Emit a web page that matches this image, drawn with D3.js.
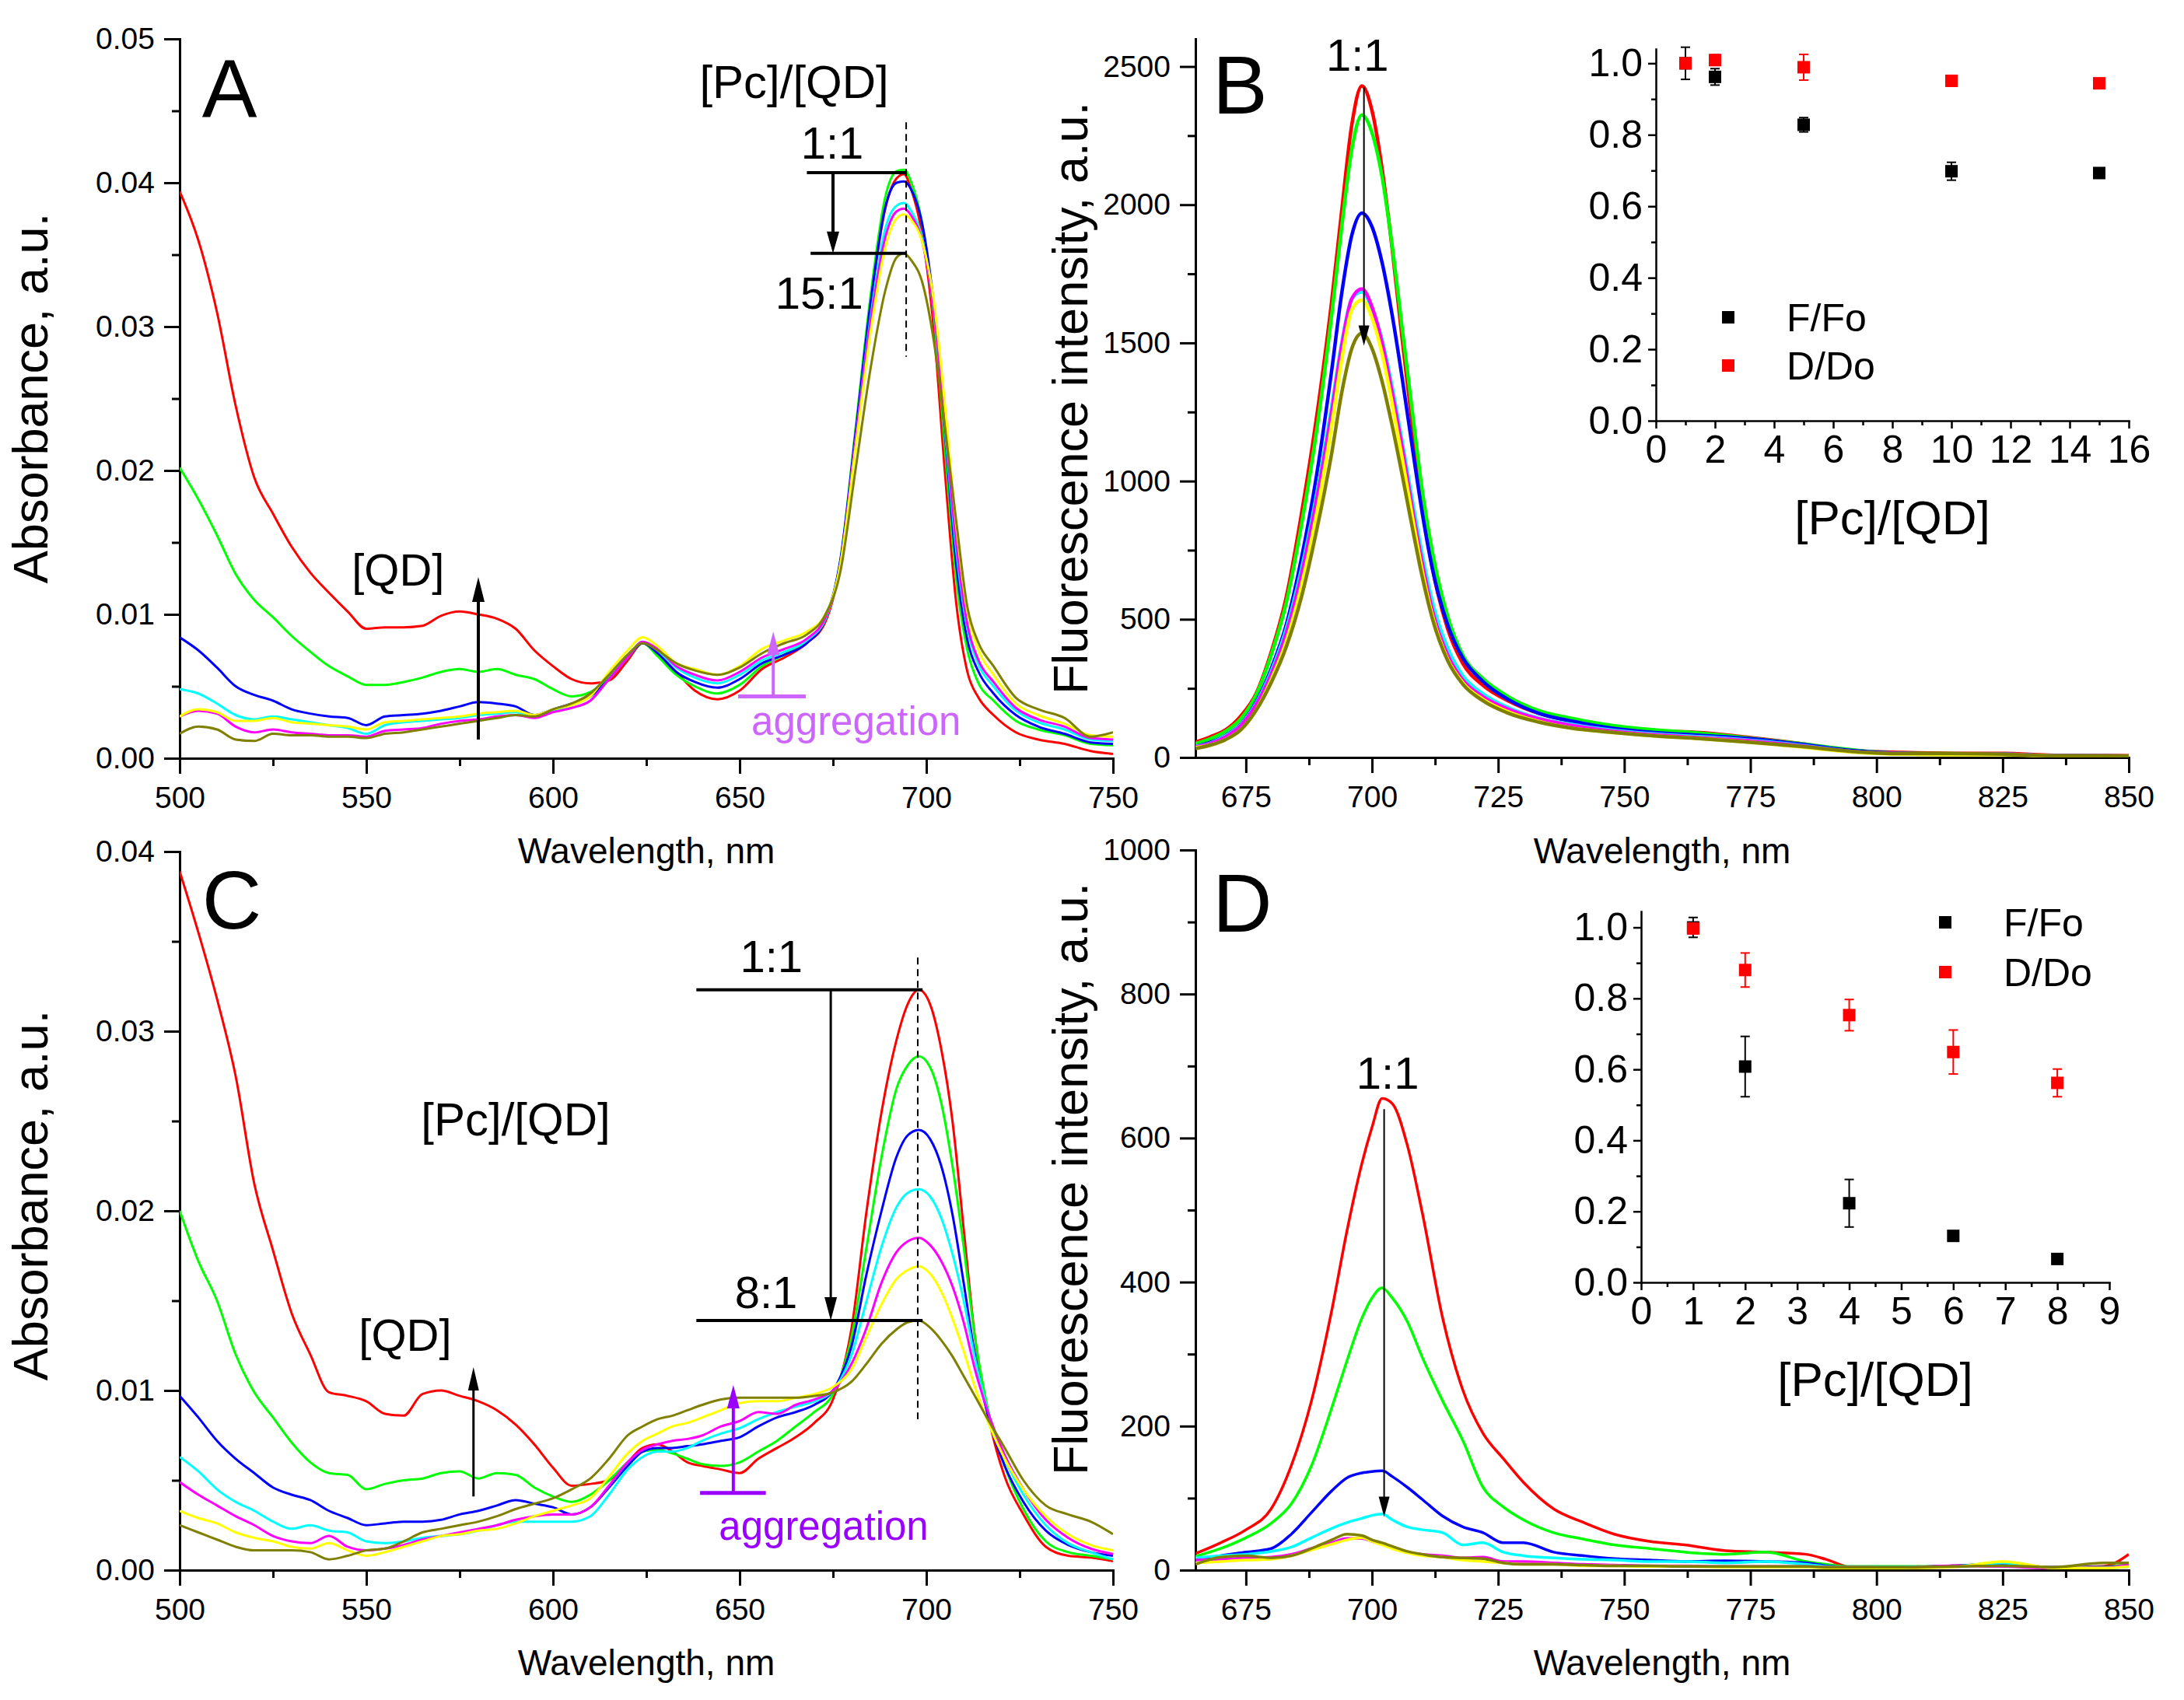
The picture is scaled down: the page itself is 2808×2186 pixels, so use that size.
<!DOCTYPE html>
<html><head><meta charset="utf-8">
<script src="https://cdn.jsdelivr.net/npm/d3@7"></script>
<style>
html,body{margin:0;padding:0;background:#fff;}
svg{display:block;}
</style></head><body>
<svg id="chart" width="2808" height="2186"></svg>
<script>
// ---------------- DATA ----------------
const seriesColors = ["#ff0000", "#00ff00", "#0000ff", "#00ffff", "#ff00ff", "#ffff00", "#808000"];

// Panel A: absorbance, [Pc]/[QD] series
const gA = [500,505,510,515,520,525,530,535,540,545,550,555,560,565,570,575,580,585,590,595,600,605,610,615,620,
  624,628,633,638,644,650,656,662,668,673,677,681,685,689,692,694,696,699,702,705,708,711,714,718,724,730,737,744,750];
const aRed = [.0394,.0360,.0310,.0245,.0195,.0170,.0147,.0129,.0115,.0102,.0090,.0091,.0091,.0092,.0099,.0102,.0100,.0097,.0090,.0075,.0064,.0055,.0052,.0054,.0068,
  .0080,.0073,.0060,.0047,.0041,.0047,.0062,.0070,.0080,.0095,.0136,.0223,.0315,.0382,.0403,.0406,.0395,.0362,.0298,.0198,.0108,.0060,.0042,.0030,.0018,.0013,.0010,.0005,.0003];
const aGreen = [.0202,.0180,.0155,.0128,.0110,.0098,.0085,.0074,.0064,.0057,.0051,.0051,.0053,.0056,.0060,.0062,.0060,.0062,.0058,.0055,.0048,.0043,.0046,.0056,.0070,
  .0080,.0071,.0058,.0050,.0045,.0051,.0064,.0072,.0082,.0097,.0138,.0228,.0320,.0390,.0408,.0409,.0400,.0370,.0310,.0215,.0125,.0075,.0052,.0040,.0026,.0020,.0016,.0010,.0009];
const aBlue = [.0084,.0075,.0063,.0050,.0044,.0040,.0034,.0031,.0029,.0028,.0023,.0029,.0030,.0031,.0033,.0036,.0039,.0038,.0036,.0030,.0034,.0038,.0043,.0055,.0070,
  .0080,.0073,.0060,.0053,.0049,.0055,.0066,.0072,.0080,.0097,.0138,.0225,.0315,.0383,.0400,.0401,.0395,.0370,.0315,.0225,.0135,.0082,.0060,.0045,.0030,.0022,.0017,.0011,.0010];
const aCyan = [.0048,.0045,.0038,.0030,.0027,.0029,.0027,.0025,.0023,.0021,.0017,.0023,.0025,.0026,.0027,.0028,.0030,.0031,.0032,.0029,.0033,.0035,.0040,.0055,.0070,
  .0081,.0075,.0063,.0056,.0052,.0058,.0068,.0074,.0082,.0097,.0135,.0220,.0305,.0368,.0384,.0386,.0380,.0360,.0310,.0228,.0145,.0090,.0065,.0050,.0033,.0025,.0020,.0013,.0012];
const aMagenta = [.0029,.0033,.0031,.0022,.0018,.0020,.0018,.0017,.0016,.0016,.0015,.0019,.0020,.0021,.0024,.0026,.0027,.0029,.0030,.0028,.0032,.0035,.0040,.0055,.0070,
  .0081,.0076,.0064,.0058,.0054,.0060,.0070,.0076,.0083,.0098,.0135,.0220,.0302,.0362,.0380,.0382,.0377,.0358,.0312,.0232,.0150,.0093,.0068,.0053,.0035,.0027,.0022,.0014,.0013];
const aYellow = [.0029,.0034,.0032,.0026,.0026,.0028,.0025,.0024,.0023,.0022,.0020,.0025,.0026,.0027,.0028,.0029,.0031,.0032,.0033,.0030,.0034,.0037,.0043,.0060,.0075,
  .0084,.0078,.0066,.0062,.0058,.0064,.0076,.0082,.0088,.0100,.0135,.0215,.0295,.0355,.0375,.0378,.0374,.0358,.0318,.0245,.0162,.0102,.0075,.0058,.0038,.0030,.0024,.0016,.0015];
const aOlive = [.0017,.0022,.0020,.0013,.0012,.0017,.0016,.0016,.0015,.0015,.0014,.0017,.0018,.0020,.0022,.0024,.0026,.0028,.0030,.0029,.0034,.0038,.0045,.0058,.0072,
  .0080,.0075,.0066,.0061,.0058,.0063,.0073,.0080,.0086,.0100,.0130,.0200,.0270,.0325,.0348,.0351,.0346,.0330,.0290,.0230,.0165,.0105,.0080,.0064,.0042,.0034,.0028,.0015,.0018];

// Panel C: absorbance
const gC = [500,505,510,515,520,525,530,535,540,545,550,555,560,565,570,575,580,585,590,595,600,605,610,615,620,
  624,628,632,636,640,645,650,655,660,665,670,675,680,684,688,692,695,698,701,704,707,710,713,717,721,726,732,738,744,750];
const cRed = [.0389,.0355,.0318,.0275,.0215,.0178,.0143,.0120,.0099,.0097,.0094,.0087,.0086,.0098,.0100,.0097,.0094,.0089,.0081,.0070,.0057,.0047,.0048,.0050,.0060,
  .0068,.0070,.0066,.0060,.0058,.0056,.0054,.0062,.0068,.0074,.0082,.0095,.0135,.0200,.0255,.0295,.0315,.0323,.0315,.0290,.0250,.0190,.0130,.0082,.0052,.0031,.0013,.0008,.0007,.0005];
const cGreen = [.0200,.0172,.0150,.0120,.0099,.0085,.0071,.0060,.0054,.0053,.0045,.0048,.0050,.0051,.0054,.0055,.0051,.0054,.0053,.0046,.0041,.0038,.0042,.0050,.0060,
  .0066,.0067,.0065,.0062,.0059,.0058,.0060,.0066,.0072,.0080,.0088,.0098,.0130,.0180,.0230,.0268,.0281,.0286,.0280,.0260,.0225,.0180,.0130,.0085,.0058,.0034,.0016,.0010,.0008,.0006];
const cBlue = [.0097,.0085,.0072,.0062,.0054,.0046,.0042,.0039,.0033,.0029,.0025,.0026,.0027,.0027,.0028,.0031,.0033,.0036,.0039,.0037,.0035,.0031,.0035,.0046,.0058,
  .0066,.0068,.0068,.0069,.0070,.0072,.0074,.0080,.0085,.0088,.0092,.0100,.0125,.0165,.0200,.0230,.0242,.0245,.0240,.0225,.0198,.0160,.0120,.0082,.0058,.0038,.0022,.0014,.0010,.0008];
const cCyan = [.0063,.0055,.0045,.0038,.0033,.0027,.0023,.0025,.0022,.0021,.0016,.0015,.0016,.0018,.0019,.0020,.0022,.0025,.0027,.0027,.0027,.0027,.0030,.0042,.0056,
  .0063,.0066,.0066,.0068,.0072,.0076,.0079,.0084,.0088,.0091,.0094,.0100,.0120,.0150,.0180,.0202,.0210,.0212,.0208,.0196,.0176,.0150,.0118,.0085,.0062,.0042,.0025,.0015,.0010,.0006];
const cMagenta = [.0049,.0042,.0036,.0030,.0025,.0019,.0016,.0015,.0019,.0013,.0011,.0012,.0014,.0017,.0019,.0021,.0023,.0025,.0028,.0030,.0031,.0031,.0035,.0047,.0060,
  .0067,.0070,.0072,.0073,.0075,.0080,.0083,.0088,.0087,.0092,.0095,.0100,.0115,.0135,.0160,.0177,.0183,.0185,.0181,.0172,.0158,.0138,.0112,.0085,.0064,.0045,.0028,.0018,.0012,.0009];
const cYellow = [.0033,.0029,.0026,.0021,.0018,.0016,.0013,.0012,.0015,.0011,.0008,.0010,.0013,.0016,.0019,.0020,.0022,.0023,.0026,.0030,.0033,.0036,.0040,.0052,.0065,
  .0072,.0076,.0080,.0082,.0085,.0089,.0093,.0094,.0094,.0096,.0098,.0102,.0112,.0130,.0148,.0162,.0167,.0169,.0165,.0155,.0140,.0122,.0102,.0080,.0062,.0045,.0030,.0020,.0014,.0011];
const cOlive = [.0025,.0021,.0017,.0013,.0011,.0011,.0011,.0010,.0006,.0008,.0011,.0012,.0016,.0021,.0023,.0025,.0027,.0030,.0034,.0037,.0040,.0045,.0051,.0062,.0075,
  .0080,.0084,.0086,.0089,.0092,.0095,.0096,.0096,.0096,.0096,.0097,.0099,.0105,.0115,.0126,.0134,.0138,.0139,.0135,.0128,.0119,.0108,.0097,.0082,.0068,.0050,.0036,.0031,.0027,.0020];

// Panel B: fluorescence
const gB = [665,668,671,674,677,680,683,686,689,692,694,696,698,700,702,704,706,708,710,712,715,718,722,727,733,740,748,756,765,775,785,795,805,815,825,835,850];
const bRed = [55,75,100,150,230,380,580,880,1230,1650,1980,2290,2430,2340,2130,1840,1510,1200,900,682,465,340,261,205,160,130,110,97,90,72,50,25,18,15,15,8,6];
const bGreen = [50,68,95,140,225,370,560,840,1180,1600,1920,2200,2325,2260,2100,1850,1550,1250,960,740,510,370,285,220,170,140,115,100,88,70,50,28,15,14,12,6,5];
const bBlue = [40,55,80,120,200,320,480,720,1020,1400,1680,1890,1970,1920,1790,1600,1370,1120,880,680,480,360,275,210,160,130,105,90,80,68,48,25,15,13,12,6,5];
const bCyan = [40,52,78,118,195,310,465,680,950,1270,1500,1660,1685,1625,1510,1340,1140,930,730,560,395,295,230,180,142,118,98,85,75,62,44,22,14,12,12,6,5];
const bMagenta = [38,50,75,115,190,300,450,660,930,1250,1490,1660,1695,1630,1500,1320,1120,900,700,530,370,280,220,175,140,115,95,82,72,60,42,22,14,12,12,6,5];
const bYellow = [35,45,65,100,170,280,420,620,880,1200,1440,1620,1655,1590,1460,1280,1080,870,670,510,355,270,210,165,130,105,90,78,68,55,38,20,12,10,10,5,4];
const bOlive = [32,45,65,100,170,270,400,580,820,1100,1320,1480,1535,1480,1360,1200,1020,830,650,500,350,265,205,160,128,105,90,78,68,55,40,22,14,14,12,6,5];

// Panel D: fluorescence
const gD = [665,670,675,680,684,688,692,695,698,700,702,704,707,710,714,718,722,726,730,736,742,748,755,762,770,778,786,790,795,805,815,825,835,845,850];
const dRed = [23,38,56,85,145,235,360,470,565,615,655,648,590,495,350,250,190,155,122,85,66,50,40,35,27,25,22,15,4,3,6,8,3,5,22];
const dGreen = [19,30,45,65,92,145,225,290,350,378,392,378,345,295,235,180,115,88,70,52,43,35,30,25,22,25,12,8,5,5,5,10,3,4,8];
const dBlue = [14,20,25,30,50,80,110,128,135,137,138,130,115,98,75,60,52,38,38,25,20,16,14,12,13,12,10,6,4,4,6,8,4,4,6];
const dCyan = [17,20,22,26,32,45,58,66,72,76,78,70,60,56,52,35,38,25,20,17,15,14,12,12,10,12,8,5,4,4,5,10,3,3,5];
const dMagenta = [14,15,17,18,22,30,38,44,44,40,36,32,25,22,20,17,18,12,12,10,8,7,6,6,5,5,5,4,4,3,6,5,3,3,8];
const dYellow = [10,12,14,15,20,28,36,42,45,40,35,30,24,20,18,14,12,10,8,8,6,6,5,5,4,4,4,3,3,3,4,12,3,3,5];
const dOlive = [8,18,20,17,20,30,42,50,48,42,38,33,26,22,18,17,16,10,8,8,7,6,6,5,5,5,5,4,4,4,5,6,4,10,10];

// Insets
const insetBRatio = [1, 2, 5, 10, 15];
const insetBF = [1.0, 0.962, 0.828, 0.698, 0.693];
const insetBFerr = [0.045, 0.023, 0.02, 0.025, 0.01];
const insetBD = [1.0, 1.009, 0.989, 0.951, 0.944];
const insetBDerr = [0.01, 0.015, 0.036, 0.015, 0.008];
const insetDRatio = [1, 2, 4, 6, 8];
const insetDF = [1.0, 0.608, 0.223, 0.131, 0.066];
const insetDFerr = [0.028, 0.085, 0.067, 0.008, 0.006];
const insetDD = [0.997, 0.88, 0.753, 0.649, 0.562];
const insetDDerr = [0.015, 0.048, 0.044, 0.062, 0.039];

// Ticks
const ticksAbsX = [500, 550, 600, 650, 700, 750];
const ticksAbsXMinor = [525, 575, 625, 675, 725];
const ticksAY = [0, 0.01, 0.02, 0.03, 0.04, 0.05];
const ticksAYMinor = [0.005, 0.015, 0.025, 0.035, 0.045];
const ticksCY = [0, 0.01, 0.02, 0.03, 0.04];
const ticksCYMinor = [0.005, 0.015, 0.025, 0.035];
const ticksFlX = [675, 700, 725, 750, 775, 800, 825, 850];
const ticksFlXMinor = [687.5, 712.5, 737.5, 762.5, 787.5, 812.5, 837.5];
const ticksBY = [0, 500, 1000, 1500, 2000, 2500];
const ticksBYMinor = [250, 750, 1250, 1750, 2250];
const ticksDY = [0, 200, 400, 600, 800, 1000];
const ticksDYMinor = [100, 300, 500, 700, 900];
const ticksInsetY = [0, 0.2, 0.4, 0.6, 0.8, 1.0];
const ticksInsetYMinor = [0.1, 0.3, 0.5, 0.7, 0.9];
const ticksInsetBX = [0, 2, 4, 6, 8, 10, 12, 14, 16];
const ticksInsetBXMinor = [1, 3, 5, 7, 9, 11, 13, 15];
const ticksInsetDX = [0, 1, 2, 3, 4, 5, 6, 7, 8, 9];
const ticksInsetDXMinor = [0.5, 1.5, 2.5, 3.5, 4.5, 5.5, 6.5, 7.5, 8.5];

// ---------------- DRAWING ----------------
const FONT = 'Arial, "Liberation Sans", sans-serif';
const svg = d3.select("#chart");
let clipN = 0;

function styleAxis(g, fs, sw) {
  g.attr("font-family", FONT).attr("font-size", fs);
  g.selectAll(".tick line").attr("stroke", "#000").attr("stroke-width", sw);
  g.selectAll(".domain").attr("stroke", "#000").attr("stroke-width", sw).attr("stroke-linecap", "square");
  g.selectAll("text").attr("fill", "#000");
}

function axes(x, y, o) {
  const yb = y.range()[0], xl = x.range()[0];
  const fs = o.fs, sw = o.sw;
  let g = svg.append("g").attr("transform", `translate(0,${yb})`)
    .call(d3.axisBottom(x).tickValues(o.xMinor).tickSize(o.minor).tickFormat("").tickSizeOuter(0));
  g.select(".domain").remove(); styleAxis(g, fs, sw);
  g = svg.append("g").attr("transform", `translate(${xl},0)`)
    .call(d3.axisLeft(y).tickValues(o.yMinor).tickSize(o.minor).tickFormat("").tickSizeOuter(0));
  g.select(".domain").remove(); styleAxis(g, fs, sw);
  g = svg.append("g").attr("transform", `translate(0,${yb})`)
    .call(d3.axisBottom(x).tickValues(o.xMajor).tickSize(o.major).tickPadding(o.xPad).tickFormat(o.xFmt).tickSizeOuter(0));
  styleAxis(g, fs, sw);
  g = svg.append("g").attr("transform", `translate(${xl},0)`)
    .call(d3.axisLeft(y).tickValues(o.yMajor).tickSize(o.major).tickPadding(o.yPad).tickFormat(o.yFmt).tickSizeOuter(0));
  styleAxis(g, fs, sw);
}

function curves(x, y, grid, list, width) {
  const id = "clip" + (clipN++);
  svg.append("clipPath").attr("id", id).append("rect")
    .attr("x", x.range()[0]).attr("y", y.range()[1])
    .attr("width", x.range()[1] - x.range()[0]).attr("height", y.range()[0] - y.range()[1]);
  const line = d3.line().x(d => x(d[0])).y(d => y(d[1])).curve(d3.curveMonotoneX);
  const g = svg.append("g").attr("clip-path", `url(#${id})`);
  list.forEach((vals, i) => {
    g.append("path").datum(d3.zip(grid, vals)).attr("d", line)
      .attr("fill", "none").attr("stroke", seriesColors[i]).attr("stroke-width", width)
      .attr("stroke-linejoin", "round");
  });
}

function text(x, y, str, fs, anchor, color) {
  return svg.append("text").attr("x", x).attr("y", y).text(str)
    .attr("font-family", FONT).attr("font-size", fs)
    .attr("text-anchor", anchor || "start").attr("fill", color || "#000");
}

function hline(x1, x2, y, w, color) {
  svg.append("line").attr("x1", x1).attr("x2", x2).attr("y1", y).attr("y2", y)
    .attr("stroke", color || "#000").attr("stroke-width", w);
}
function vline(x, y1, y2, w, color, dash) {
  const l = svg.append("line").attr("x1", x).attr("x2", x).attr("y1", y1).attr("y2", y2)
    .attr("stroke", color || "#000").attr("stroke-width", w);
  if (dash) l.attr("stroke-dasharray", dash);
}
// vertical arrow from y1 to tip y2
function arrow(x, y1, y2, w, hw, hl, color) {
  const dir = y2 > y1 ? 1 : -1;
  vline(x, y1, y2 - dir * hl * 0.8, w, color);
  svg.append("path").attr("d", `M${x},${y2} L${x - hw / 2},${y2 - dir * hl} L${x + hw / 2},${y2 - dir * hl} Z`)
    .attr("fill", color || "#000");
}

function yTitle(xb, yc, str) {
  svg.append("text").attr("transform", `translate(${xb},${yc}) rotate(-90)`).text(str)
    .attr("font-family", FONT).attr("font-size", 63).attr("text-anchor", "middle").attr("fill", "#000");
}

// ---------- Panel A ----------
const xA = d3.scaleLinear().domain([500, 750]).range([231, 1431]);
const yA = d3.scaleLinear().domain([0, 0.05]).range([975, 50]);
axes(xA, yA, {xMajor: ticksAbsX, xMinor: ticksAbsXMinor, yMajor: ticksAY, yMinor: ticksAYMinor,
  major: 20, minor: 10, xPad: 16, yPad: 12, fs: 39, sw: 3, xFmt: d3.format("d"), yFmt: d3.format(".2f")});
curves(xA, yA, gA, [aRed, aGreen, aBlue, aCyan, aMagenta, aYellow, aOlive], 3);
yTitle(61, 512, "Absorbance, a.u.");
text(831, 1110, "Wavelength, nm", 46, "middle");
text(xA(506), yA(0.0446), "A", 106);
text(xA(664.6), yA(0.0459), "[Pc]/[QD]", 60, "middle");
vline(xA(694.6), yA(0.0442), yA(0.0279), 2, "#000", "9,6");
hline(xA(668), xA(694.6), yA(0.0407), 4);
hline(xA(669), xA(694.6), yA(0.0351), 4);
arrow(xA(675), yA(0.0407), yA(0.0351), 4, 16, 28);
text(xA(674.8), yA(0.0417), "1:1", 58, "middle");
text(xA(671.3), yA(0.03124), "15:1", 58, "middle");
text(xA(558.5), yA(0.0120), "[QD]", 58, "middle");
arrow(xA(580), yA(0.0013), yA(0.0126), 4, 16, 32);
const purpA = "#cc66ff";
hline(xA(649.6), xA(667.7), yA(0.0043), 5, purpA);
arrow(xA(659), yA(0.0043), yA(0.0088), 4, 16, 30, purpA);
text(xA(681.2), yA(0.0016), "aggregation", 51, "middle", purpA);

// ---------- Panel C ----------
const xC = d3.scaleLinear().domain([500, 750]).range([231, 1431]);
const yC = d3.scaleLinear().domain([0, 0.04]).range([2019, 1095]);
axes(xC, yC, {xMajor: ticksAbsX, xMinor: ticksAbsXMinor, yMajor: ticksCY, yMinor: ticksCYMinor,
  major: 20, minor: 10, xPad: 16, yPad: 12, fs: 39, sw: 3, xFmt: d3.format("d"), yFmt: d3.format(".2f")});
curves(xC, yC, gC, [cRed, cGreen, cBlue, cCyan, cMagenta, cYellow, cOlive], 3);
yTitle(61, 1537, "Absorbance, a.u.");
text(831, 2154, "Wavelength, nm", 46, "middle");
text(xC(506), yC(0.0357), "C", 106);
text(xC(590), yC(0.0242), "[Pc]/[QD]", 60, "middle");
vline(xC(697.7), yC(0.0341), yC(0.0084), 2, "#000", "9,6");
hline(xC(638.4), xC(699), yC(0.0323), 4);
hline(xC(638.4), xC(699), yC(0.0139), 4);
arrow(xC(674.4), yC(0.0323), yC(0.0139), 3, 16, 30);
text(xC(658.5), yC(0.0333), "1:1", 58, "middle");
text(xC(657.1), yC(0.0146), "8:1", 58, "middle");
text(xC(560.4), yC(0.0122), "[QD]", 58, "middle");
arrow(xC(578.7), yC(0.0041), yC(0.0113), 3, 14, 30);
const purpC = "#9900ff";
hline(xC(639.4), xC(657), yC(0.0043), 5, purpC);
arrow(xC(648.3), yC(0.0043), yC(0.0103), 4, 16, 30, purpC);
text(xC(672.5), yC(0.0017), "aggregation", 51, "middle", purpC);

// ---------- Panel B ----------
const xB = d3.scaleLinear().domain([665, 850]).range([1537, 2737]);
const yB = d3.scaleLinear().domain([0, 2600]).range([974, 50]);
axes(xB, yB, {xMajor: ticksFlX, xMinor: ticksFlXMinor, yMajor: ticksBY, yMinor: ticksBYMinor,
  major: 20, minor: 10, xPad: 16, yPad: 12, fs: 39, sw: 3, xFmt: d3.format("d"), yFmt: d3.format("d")});
curves(xB, yB, gB, [bRed, bGreen, bBlue, bCyan, bMagenta, bYellow, bOlive], 4.5);
yTitle(1398, 512, "Fluorescence intensity, a.u.");
text(2137, 1110, "Wavelength, nm", 46, "middle");
text(xB(668.4), yB(2329), "B", 106);
text(xB(697.1), yB(2484), "1:1", 58, "middle");
arrow(xB(698.4), yB(2425), yB(1490), 2, 14, 26);

// ---------- Panel D ----------
const xD = d3.scaleLinear().domain([665, 850]).range([1537, 2737]);
const yD = d3.scaleLinear().domain([0, 1000]).range([2019, 1093]);
axes(xD, yD, {xMajor: ticksFlX, xMinor: ticksFlXMinor, yMajor: ticksDY, yMinor: ticksDYMinor,
  major: 20, minor: 10, xPad: 16, yPad: 12, fs: 39, sw: 3, xFmt: d3.format("d"), yFmt: d3.format("d")});
curves(xD, yD, gD, [dRed, dGreen, dBlue, dCyan, dMagenta, dYellow, dOlive], 3.5);
yTitle(1398, 1516, "Fluorescence intensity, a.u.");
text(2137, 2154, "Wavelength, nm", 46, "middle");
text(xD(668.4), yD(887), "D", 106);
text(xD(703.1), yD(668), "1:1", 58, "middle");
arrow(xD(702.4), yD(640), yD(74), 2, 14, 26);

// ---------- Insets ----------
function inset(x, y, o) {
  axes(x, y, {xMajor: o.xMajor, xMinor: o.xMinor, yMajor: ticksInsetY, yMinor: ticksInsetYMinor,
    major: 10, minor: 6, xPad: 8, yPad: 7, fs: 50, sw: 2.5, xFmt: d3.format("d"), yFmt: d3.format(".1f")});
  const sets = [[o.F, o.Ferr, "#000"], [o.D, o.Derr, "#ff0000"]];
  sets.forEach(([vals, errs, col]) => {
    const g = svg.append("g");
    o.ratio.forEach((r, i) => {
      const cx = x(r), top = y(vals[i] + errs[i]), bot = y(vals[i] - errs[i]);
      g.append("line").attr("x1", cx).attr("x2", cx).attr("y1", top).attr("y2", bot).attr("stroke", col).attr("stroke-width", 2);
      g.append("line").attr("x1", cx - 6).attr("x2", cx + 6).attr("y1", top).attr("y2", top).attr("stroke", col).attr("stroke-width", 2);
      g.append("line").attr("x1", cx - 6).attr("x2", cx + 6).attr("y1", bot).attr("y2", bot).attr("stroke", col).attr("stroke-width", 2);
      g.append("rect").attr("x", cx - 8).attr("y", y(vals[i]) - 8).attr("width", 16).attr("height", 16).attr("fill", col);
    });
  });
  const xm = (x.range()[0] + x.range()[1]) / 2;
  text(xm, y.range()[0] + 146, "[Pc]/[QD]", 62, "middle");
  // legend
  svg.append("rect").attr("x", o.legX - 8).attr("y", o.legY - 8).attr("width", 16).attr("height", 16).attr("fill", "#000");
  svg.append("rect").attr("x", o.legX - 8).attr("y", o.legY + o.legDy - 8).attr("width", 16).attr("height", 16).attr("fill", "#ff0000");
  text(o.legX + 75, o.legY + 18, "F/Fo", 50);
  text(o.legX + 75, o.legY + o.legDy + 18, "D/Do", 50);
}

const xIB = d3.scaleLinear().domain([0, 16]).range([2129, 2737]);
const yIB = d3.scaleLinear().domain([0, 1.04]).range([541, 63]);
inset(xIB, yIB, {xMajor: ticksInsetBX, xMinor: ticksInsetBXMinor, ratio: insetBRatio,
  F: insetBF, Ferr: insetBFerr, D: insetBD, Derr: insetBDerr, legX: 2222, legY: 408, legDy: 62});

const xID = d3.scaleLinear().domain([0, 9]).range([2110, 2712]);
const yID = d3.scaleLinear().domain([0, 1.045]).range([1649, 1172]);
inset(xID, yID, {xMajor: ticksInsetDX, xMinor: ticksInsetDXMinor, ratio: insetDRatio,
  F: insetDF, Ferr: insetDFerr, D: insetDD, Derr: insetDDerr, legX: 2501, legY: 1186, legDy: 64});
</script>
</body></html>
